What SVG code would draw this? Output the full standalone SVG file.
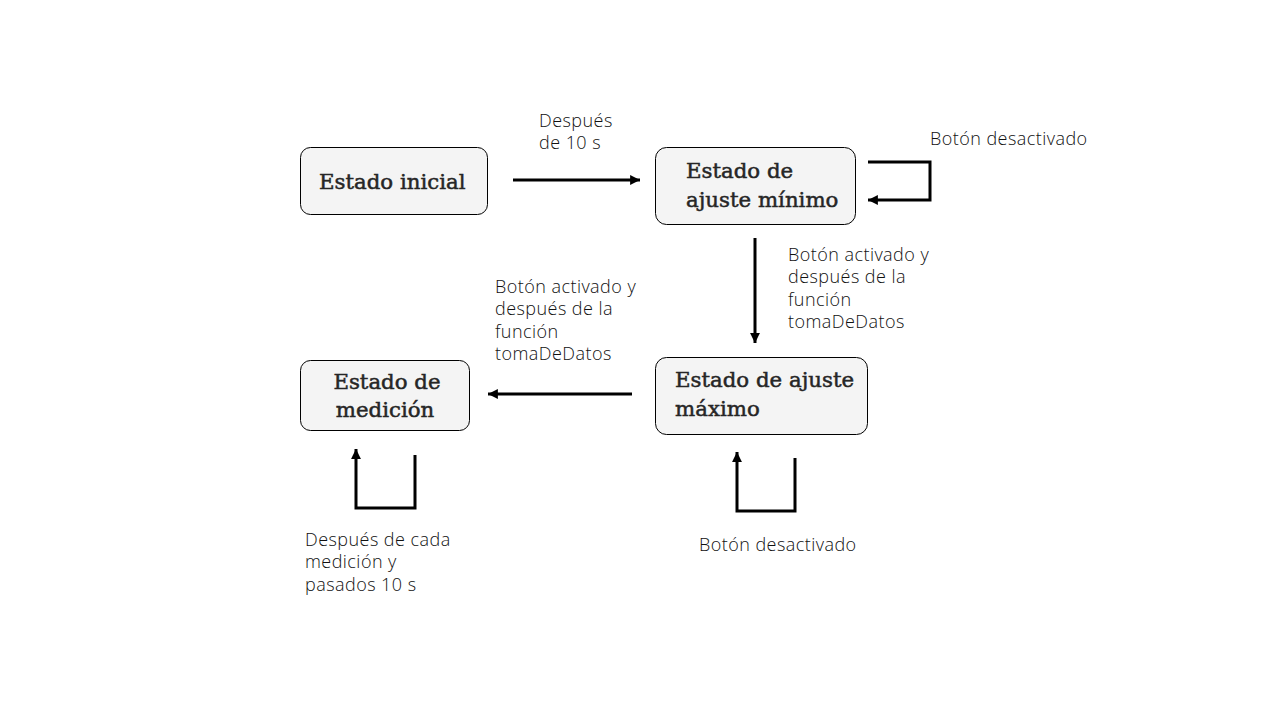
<svg xmlns="http://www.w3.org/2000/svg" width="1280" height="720" viewBox="0 0 1280 720">
<defs>
<style>
.node{fill:#f4f4f4;stroke:#000;stroke-width:1}
.nt{font-family:"DejaVu Serif","Liberation Serif",serif;font-size:21.3px;font-weight:normal;fill:#262626;stroke:#262626;stroke-width:0.5}
.lb{font-family:"Open Sans","Liberation Sans",sans-serif;font-weight:300;font-size:18px;letter-spacing:0.45px;fill:#111}
.c{fill:none;stroke:#000;stroke-width:3}
</style>
<marker id="ah" viewBox="0 0 10 10" refX="10" refY="5" markerWidth="3.3" markerHeight="3.3" orient="auto" markerUnits="strokeWidth">
<path d="M0,0 L10,5 L0,10 z" fill="#000"/>
</marker>
</defs>
<rect width="1280" height="720" fill="#fff"/>
<g id="n-inicial">
<rect class="node" x="300.5" y="147.5" width="187" height="67" rx="10"/>
<text class="nt" x="319" y="189">Estado inicial</text>
</g>
<g id="n-minimo">
<rect class="node" x="655.5" y="147.5" width="200" height="77" rx="11"/>
<text class="nt" x="686" y="178">Estado de</text>
<text class="nt" x="686" y="207">ajuste mínimo</text>
</g>
<g id="n-medicion">
<rect class="node" x="300.5" y="360.5" width="169" height="70" rx="10"/>
<text class="nt" x="387" y="389" text-anchor="middle">Estado de</text>
<text class="nt" x="385" y="417" text-anchor="middle">medición</text>
</g>
<g id="n-maximo">
<rect class="node" x="655.5" y="357.5" width="212" height="77" rx="11"/>
<text class="nt" x="675" y="387">Estado de ajuste</text>
<text class="nt" x="675" y="416">máximo</text>
</g>
<g id="connectors">
<path class="c" d="M513,180 H640" marker-end="url(#ah)"/>
<path class="c" d="M868,162 H930 V200 H868" marker-end="url(#ah)"/>
<path class="c" d="M755,238 V343" marker-end="url(#ah)"/>
<path class="c" d="M632,394 H488" marker-end="url(#ah)"/>
<path class="c" d="M415,455 V508 H356 V449" marker-end="url(#ah)"/>
<path class="c" d="M795,458 V511 H737 V452" marker-end="url(#ah)"/>
</g>
<g id="labels">
<text class="lb" x="539" y="127">Después</text>
<text class="lb" x="539" y="149">de 10 s</text>
<text class="lb" x="930" y="145">Botón desactivado</text>
<text class="lb" x="788" y="261">Botón activado y</text>
<text class="lb" x="788" y="283">después de la</text>
<text class="lb" x="788" y="306">función</text>
<text class="lb" x="788" y="328">tomaDeDatos</text>
<text class="lb" x="495" y="293">Botón activado y</text>
<text class="lb" x="495" y="315">después de la</text>
<text class="lb" x="495" y="338">función</text>
<text class="lb" x="495" y="360">tomaDeDatos</text>
<text class="lb" x="305" y="546">Después de cada</text>
<text class="lb" x="305" y="568">medición y</text>
<text class="lb" x="305" y="591">pasados 10 s</text>
<text class="lb" x="699" y="551">Botón desactivado</text>
</g>
</svg>
